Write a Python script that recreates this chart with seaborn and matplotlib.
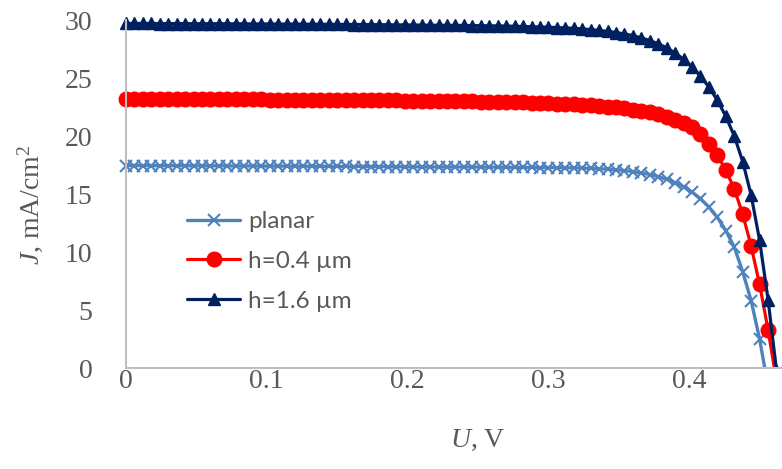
import matplotlib
matplotlib.use("Agg")
import matplotlib.pyplot as plt
from matplotlib.lines import Line2D
from matplotlib.patches import Rectangle
import pandas as pd
import seaborn as sns

# Bias sweep (V)
voltage = [
    0.000, 0.006, 0.012, 0.018, 0.024, 0.030, 0.036, 0.042, 0.048, 0.054,
    0.060, 0.066, 0.072, 0.078, 0.084, 0.090, 0.096, 0.102, 0.108, 0.114,
    0.120, 0.126, 0.132, 0.138, 0.144, 0.150, 0.156, 0.162, 0.168, 0.174,
    0.180, 0.186, 0.192, 0.198, 0.204, 0.210, 0.216, 0.222, 0.228, 0.234,
    0.240, 0.246, 0.252, 0.258, 0.264, 0.270, 0.276, 0.282, 0.288, 0.294,
    0.300, 0.306, 0.312, 0.318, 0.324, 0.330, 0.336, 0.342, 0.348, 0.354,
    0.360, 0.366, 0.372, 0.378, 0.384, 0.390, 0.396, 0.402, 0.408, 0.414,
    0.420, 0.426, 0.432, 0.438, 0.444, 0.450, 0.456, 0.462,
]

# Current density (mA/cm^2), planar cell
j_planar = [
    17.45, 17.45, 17.45, 17.45, 17.44, 17.44, 17.44, 17.44, 17.43, 17.43,
    17.43, 17.43, 17.42, 17.42, 17.42, 17.42, 17.41, 17.41, 17.41, 17.40,
    17.40, 17.40, 17.39, 17.39, 17.38, 17.38, 17.38, 17.37, 17.37, 17.36,
    17.36, 17.35, 17.35, 17.34, 17.34, 17.34, 17.33, 17.33, 17.33, 17.33,
    17.33, 17.33, 17.32, 17.32, 17.31, 17.31, 17.30, 17.30, 17.29, 17.28,
    17.28, 17.27, 17.26, 17.25, 17.24, 17.21, 17.18, 17.14, 17.09, 17.02,
    16.93, 16.82, 16.68, 16.50, 16.27, 15.98, 15.62, 15.17, 14.60, 13.88,
    12.98, 11.85, 10.42, 8.30, 5.80, 2.50, -1.60,
]

# Current density (mA/cm^2), h = 0.4 um
j_h04 = [
    23.20, 23.20, 23.19, 23.19, 23.19, 23.18, 23.18, 23.18, 23.17, 23.17,
    23.17, 23.16, 23.16, 23.16, 23.15, 23.15, 23.15, 23.14, 23.14, 23.13,
    23.13, 23.13, 23.12, 23.12, 23.11, 23.11, 23.10, 23.10, 23.09, 23.09,
    23.08, 23.07, 23.07, 23.06, 23.05, 23.05, 23.04, 23.03, 23.02, 23.01,
    23.00, 22.99, 22.97, 22.96, 22.94, 22.93, 22.91, 22.89, 22.87, 22.84,
    22.82, 22.79, 22.76, 22.72, 22.68, 22.64, 22.59, 22.53, 22.46, 22.38,
    22.28, 22.17, 22.03, 21.87, 21.67, 21.42, 21.12, 20.75, 20.15, 19.35,
    18.35, 17.05, 15.45, 13.25, 10.50, 7.20, 3.30, -1.10,
]

# Current density (mA/cm^2), h = 1.6 um
j_h16 = [
    29.70, 29.70, 29.70, 29.70, 29.69, 29.69, 29.69, 29.69, 29.68, 29.68,
    29.68, 29.68, 29.67, 29.67, 29.67, 29.66, 29.66, 29.66, 29.65, 29.65,
    29.65, 29.64, 29.64, 29.63, 29.63, 29.62, 29.62, 29.61, 29.61, 29.60,
    29.60, 29.59, 29.58, 29.58, 29.57, 29.56, 29.55, 29.55, 29.54, 29.54,
    29.53, 29.52, 29.51, 29.50, 29.49, 29.48, 29.46, 29.44, 29.42, 29.40,
    29.38, 29.35, 29.32, 29.28, 29.23, 29.17, 29.10, 29.02, 28.92, 28.80,
    28.65, 28.46, 28.23, 27.95, 27.60, 27.16, 26.62, 25.96, 25.17, 24.22,
    23.08, 21.70, 20.00, 17.80, 14.90, 11.00, 5.90, -0.20,
]

series_labels = ["planar", "h=0.4 µm", "h=1.6 µm"]
series_values = [j_planar, j_h04, j_h16]

x_ticks = [0, 0.1, 0.2, 0.3, 0.4]
x_tick_labels = ["0", "0.1", "0.2", "0.3", "0.4"]
y_ticks = [0, 5, 10, 15, 20, 25, 30]
y_tick_labels = ["0", "5", "10", "15", "20", "25", "30"]

styles = [
    dict(color="#4F81BD", marker="x", markersize=8, mew=1.5, lw=2.4),
    dict(color="#FF0000", marker="o", markersize=10.5, mew=1.0, lw=2.3),
    dict(color="#002060", marker="^", markersize=9, mew=1.0, lw=2.3),
]

sns.set_style("white")
plt.rcParams["font.family"] = ["Liberation Serif", "DejaVu Serif"]
plt.rcParams["mathtext.fontset"] = "custom"
plt.rcParams["mathtext.rm"] = "Liberation Serif"
plt.rcParams["mathtext.it"] = "Liberation Serif:italic"

W, H = 782, 469
fig = plt.figure(figsize=(W / 100, H / 100), dpi=100)
# plot area runs past the right border of the canvas (axis to 0.5 V)
left_px, right_px, top_px, bottom_px = 126, 830, 20, 368
ax = fig.add_axes([left_px / W, 1 - bottom_px / H,
                   (right_px - left_px) / W, (bottom_px - top_px) / H])

handles = []
for label, values, st in zip(series_labels, series_values, styles):
    n = len(values)
    df = pd.DataFrame({"U": voltage[:n], "J": values})
    sns.lineplot(data=df, x="U", y="J", ax=ax, sort=False, legend=False,
                 color=st["color"], lw=st["lw"], marker=st["marker"],
                 markersize=st["markersize"], markeredgewidth=st["mew"],
                 markeredgecolor=st["color"], markerfacecolor=st["color"])
    line = ax.lines[-1]
    # hide everything below J = 0, but let markers spill over the top edge
    line.set_clip_path(Rectangle((-0.1, 0), 1.0, 40, transform=ax.transData))
    handles.append(Line2D([], [], color=st["color"], lw=st["lw"],
                          marker=st["marker"], markersize=st["markersize"],
                          markeredgewidth=st["mew"],
                          markeredgecolor=st["color"],
                          markerfacecolor=st["color"], label=label))

ax.set_xlim(0, 0.5)
ax.set_ylim(0, 30)
ax.set_xticks(x_ticks)
ax.set_xticklabels(x_tick_labels)
ax.set_yticks(y_ticks)
ax.set_yticklabels(y_tick_labels)
ax.tick_params(axis="both", length=0, labelsize=20, labelcolor="#595959")
ax.tick_params(axis="y", pad=24)
ax.tick_params(axis="x", pad=1)

for side in ["top", "right"]:
    ax.spines[side].set_visible(False)
for side in ["left", "bottom"]:
    ax.spines[side].set_color("#BFBFBF")
    ax.spines[side].set_linewidth(1.5)
ax.grid(False)

ax.set_xlabel("$U$, V", fontsize=20, color="#595959", labelpad=24)
ax.set_ylabel("$J$, mA/cm$^2$", fontsize=20, color="#595959")
ax.yaxis.set_label_coords(-0.115, 0.468)

leg = ax.legend(handles=handles, loc="center left",
                bbox_to_anchor=(187 / W, 1 - 261.5 / H),
                bbox_transform=fig.transFigure, frameon=False,
                borderpad=0, borderaxespad=0, handlelength=2.2,
                handletextpad=0.3, labelspacing=0.78,
                prop={"family": "Lato", "size": 17.5})
for t in leg.get_texts():
    t.set_color("#595959")

fig.savefig("out.png", dpi=100)
